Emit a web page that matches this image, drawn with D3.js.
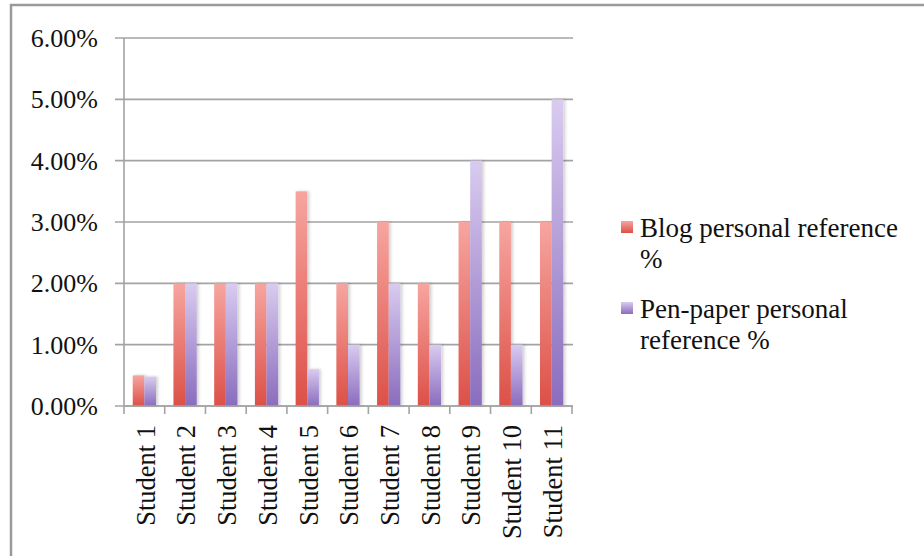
<!DOCTYPE html>
<html>
<head>
<meta charset="utf-8">
<script src="https://cdn.jsdelivr.net/npm/d3@7"></script>
<style>
  html, body { margin: 0; padding: 0; background: #fff; }
  svg { display: block; }
  text { font-family: "Liberation Serif", "Times New Roman", serif; fill: #111; }
</style>
</head>
<body>
<svg id="chart" width="924" height="556"></svg>
<script>
// Share of personal references per student, by writing medium (%)
const students = ["Student 1", "Student 2", "Student 3", "Student 4", "Student 5", "Student 6",
                  "Student 7", "Student 8", "Student 9", "Student 10", "Student 11"];
const blogValues = [0.5, 2, 2, 2, 3.5, 2, 3, 2, 3, 3, 3];
const penPaperValues = [0.48, 2, 2, 2, 0.6, 1, 2, 1, 4, 1, 5];
const seriesNames = ["Blog personal reference %", "Pen-paper personal reference %"];
const yTicks = [0, 1, 2, 3, 4, 5, 6];

const svg = d3.select("#chart");

// outer frame
svg.append("rect")
  .attr("x", 11).attr("y", 5)
  .attr("width", 960).attr("height", 600)
  .attr("fill", "none").attr("stroke", "#9a9a9a").attr("stroke-width", 2.5);

const plot = { left: 124, right: 572, top: 38, bottom: 406 };

const x0 = d3.scaleBand().domain(students).range([plot.left, plot.right]).paddingInner(0).paddingOuter(0);
const barW = x0.bandwidth() / 3.5; // gap between groups is 1.5 bar widths
const y = d3.scaleLinear().domain([0, 6]).range([plot.bottom, plot.top]);

const defs = svg.append("defs");
function grad(id, top, bottom) {
  const g = defs.append("linearGradient").attr("id", id)
    .attr("x1", 0).attr("y1", 0).attr("x2", 0).attr("y2", 1);
  g.append("stop").attr("offset", "0%").attr("stop-color", top);
  g.append("stop").attr("offset", "100%").attr("stop-color", bottom);
}
grad("gBlog", "#f7a5a0", "#dc5047");
grad("gPen", "#d9cbf0", "#8a6cbd");
const shadow = defs.append("filter").attr("id", "barShadow")
  .attr("x", "-30%").attr("y", "-5%").attr("width", "180%").attr("height", "110%");
shadow.append("feDropShadow").attr("dx", 2).attr("dy", 0).attr("stdDeviation", 1.6)
  .attr("flood-color", "#000").attr("flood-opacity", 0.18);

// horizontal gridlines
svg.append("g").selectAll("line").data(yTicks).join("line")
  .attr("x1", plot.left - 9).attr("x2", plot.right + 1)
  .attr("y1", d => y(d)).attr("y2", d => y(d))
  .attr("stroke", "#a3a3a3").attr("stroke-width", 1.6);

// y axis labels
svg.append("g").selectAll("text").data(yTicks).join("text")
  .attr("x", 98).attr("y", d => y(d) + 9)
  .attr("text-anchor", "end")
  .attr("font-size", 26)
  .text(d => d3.format(".2f")(d) + "%");

// bars
const series = [
  { values: blogValues, fill: "url(#gBlog)", offset: 0 },
  { values: penPaperValues, fill: "url(#gPen)", offset: 1 }
];
const barsG = svg.append("g");
series.forEach(s => {
  barsG.append("g").selectAll("rect").data(students).join("rect")
    .attr("x", (d, i) => x0(d) + 0.75 * barW + s.offset * barW)
    .attr("y", (d, i) => y(s.values[i]))
    .attr("width", barW)
    .attr("height", (d, i) => y(0) - y(s.values[i]))
    .attr("fill", s.fill)
    .attr("filter", "url(#barShadow)");
});

// y axis line
svg.append("line")
  .attr("x1", plot.left).attr("x2", plot.left)
  .attr("y1", plot.top).attr("y2", plot.bottom)
  .attr("stroke", "#a3a3a3").attr("stroke-width", 1.6);

// x axis line and tick marks at group boundaries
svg.append("line")
  .attr("x1", plot.left).attr("x2", plot.right + 1)
  .attr("y1", plot.bottom).attr("y2", plot.bottom)
  .attr("stroke", "#a3a3a3").attr("stroke-width", 1.6);
const boundaries = students.map(d => x0(d)).concat([plot.right]);
svg.append("g").selectAll("line").data(boundaries).join("line")
  .attr("x1", d => d).attr("x2", d => d)
  .attr("y1", plot.bottom).attr("y2", plot.bottom + 8)
  .attr("stroke", "#a3a3a3").attr("stroke-width", 1.6);

// category labels, rotated
svg.append("g").selectAll("text").data(students).join("text")
  .attr("transform", d => `translate(${x0(d) + x0.bandwidth() / 2 + 1},${plot.bottom + 19}) rotate(-90)`)
  .attr("text-anchor", "end")
  .attr("dy", "0.35em")
  .attr("font-size", 26.5)
  .text(d => d);

// legend
const legend = [
  { color: "url(#gBlog)", lines: ["Blog personal reference", "%"], y: 237 },
  { color: "url(#gPen)", lines: ["Pen-paper personal", "reference %"], y: 318 }
];
const lg = svg.append("g");
legend.forEach(l => {
  lg.append("rect").attr("x", 621).attr("y", l.y - 16).attr("width", 12).attr("height", 12)
    .attr("fill", l.color);
  const t = lg.append("text").attr("x", 640).attr("y", l.y).attr("font-size", 27);
  l.lines.forEach((s, i) => {
    t.append("tspan").attr("x", 640).attr("dy", i === 0 ? 0 : 31).text(s);
  });
});
</script>
</body>
</html>
